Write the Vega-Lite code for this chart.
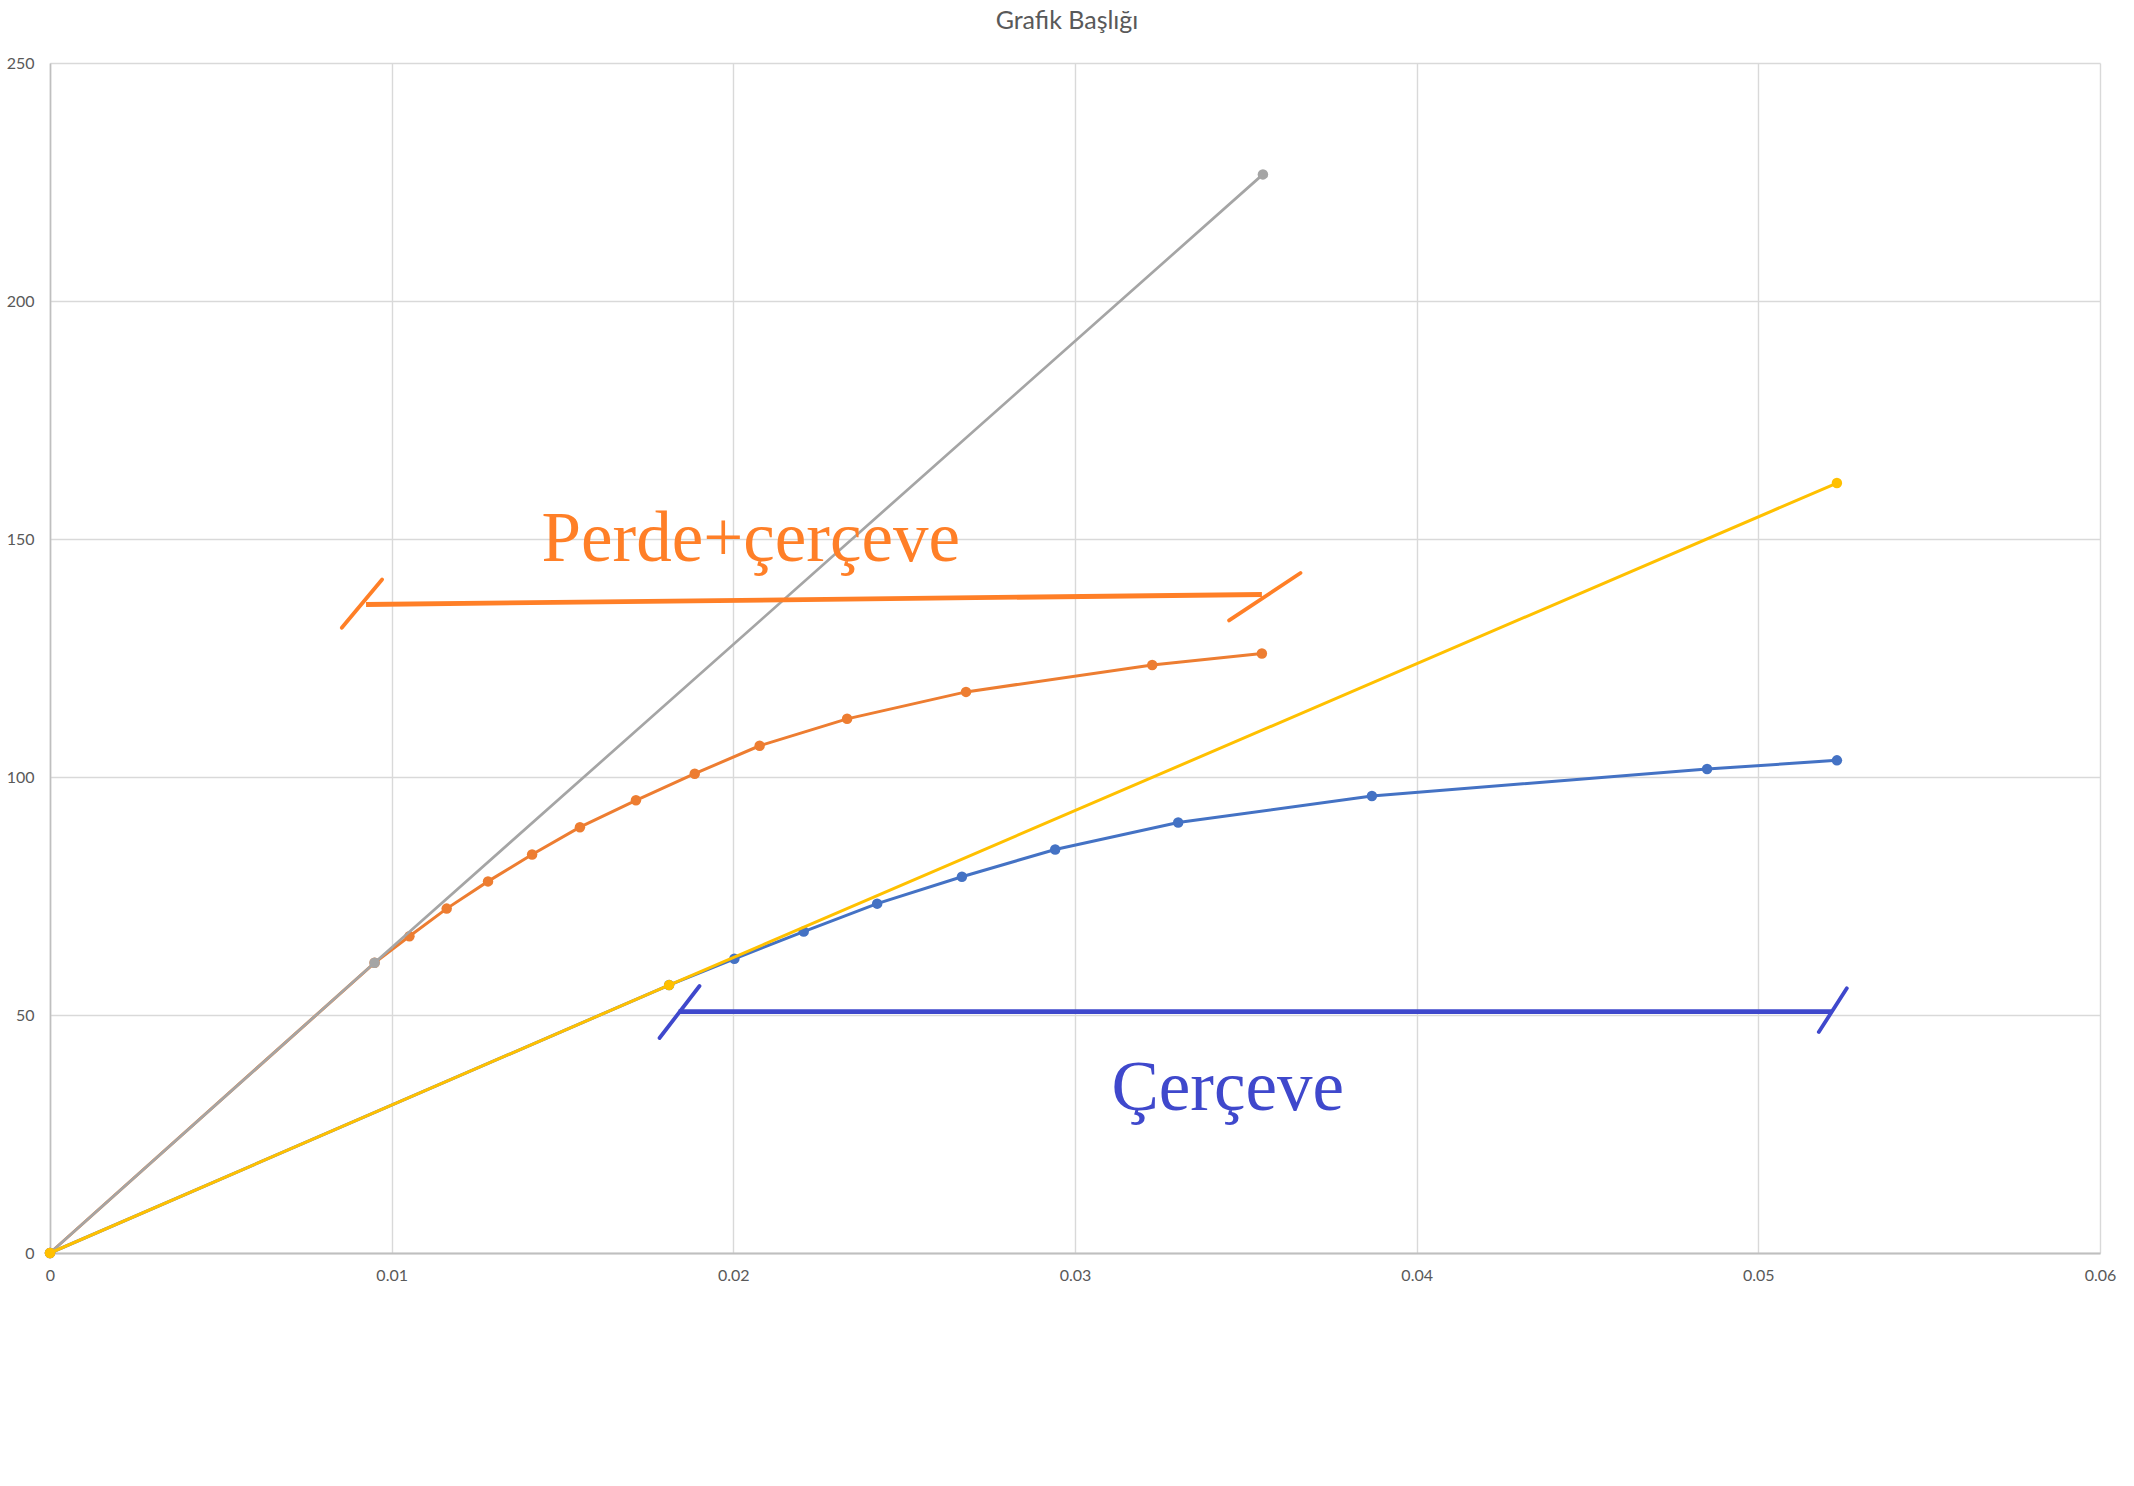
{
  "$schema": "https://vega.github.io/schema/vega-lite/v6.json",
  "width": 2050,
  "height": 1190,
  "autosize": {"type": "none"},
  "padding": {"left": 50, "top": 63, "right": 34, "bottom": 233},
  "background": "white",
  "title": {"text": "Grafik Başlığı", "font": "Lato", "fontSize": 25, "fontWeight": "normal", "color": "#595959", "anchor": "middle", "offset": 21, "dx": -8},
  "config": {"view": {"stroke": null}},
  "datasets": {
    "series": [
      {"g": "Seri 1", "x": 0, "y": 0},
      {"g": "Seri 1", "x": 0.01812, "y": 56.28},
      {"g": "Seri 1", "x": 0.02003, "y": 61.8},
      {"g": "Seri 1", "x": 0.02206, "y": 67.53},
      {"g": "Seri 1", "x": 0.02421, "y": 73.39},
      {"g": "Seri 1", "x": 0.02669, "y": 79.05},
      {"g": "Seri 1", "x": 0.02942, "y": 84.78},
      {"g": "Seri 1", "x": 0.03302, "y": 90.43},
      {"g": "Seri 1", "x": 0.03869, "y": 96.0},
      {"g": "Seri 1", "x": 0.0485, "y": 101.68},
      {"g": "Seri 1", "x": 0.0523, "y": 103.5},
      {"g": "Seri 2", "x": 0, "y": 0},
      {"g": "Seri 2", "x": 0.0095, "y": 60.96},
      {"g": "Seri 2", "x": 0.01052, "y": 66.55},
      {"g": "Seri 2", "x": 0.01161, "y": 72.35},
      {"g": "Seri 2", "x": 0.01282, "y": 78.07},
      {"g": "Seri 2", "x": 0.01411, "y": 83.73},
      {"g": "Seri 2", "x": 0.01551, "y": 89.46},
      {"g": "Seri 2", "x": 0.01715, "y": 95.11},
      {"g": "Seri 2", "x": 0.01887, "y": 100.7},
      {"g": "Seri 2", "x": 0.02077, "y": 106.56},
      {"g": "Seri 2", "x": 0.02333, "y": 112.22},
      {"g": "Seri 2", "x": 0.02681, "y": 117.88},
      {"g": "Seri 2", "x": 0.03226, "y": 123.53},
      {"g": "Seri 2", "x": 0.03547, "y": 125.95},
      {"g": "Seri 3", "x": 0, "y": 0},
      {"g": "Seri 3", "x": 0.0095, "y": 60.96},
      {"g": "Seri 3", "x": 0.0355, "y": 226.6},
      {"g": "Seri 4", "x": 0, "y": 0},
      {"g": "Seri 4", "x": 0.01812, "y": 56.28},
      {"g": "Seri 4", "x": 0.0523, "y": 161.76}
    ],
    "bars": [
      {"g": "Perde+çerçeve", "x": 0.00925, "y": 136.24, "x2": 0.03547, "y2": 138.34},
      {"g": "Çerçeve", "x": 0.0184, "y": 50.7, "x2": 0.05215, "y2": 50.7}
    ],
    "slashes": [
      {"g": "Perde+çerçeve", "x": 0.00854, "y": 131.35, "x2": 0.00972, "y2": 141.48},
      {"g": "Perde+çerçeve", "x": 0.03451, "y": 132.9, "x2": 0.0366, "y2": 142.86},
      {"g": "Çerçeve", "x": 0.01784, "y": 45.17, "x2": 0.01901, "y2": 56.09},
      {"g": "Çerçeve", "x": 0.05177, "y": 46.43, "x2": 0.05259, "y2": 55.6}
    ],
    "labels": [
      {"g": "Perde+çerçeve", "t": "Perde+çerçeve", "x": 0.02051, "y": 145.3},
      {"g": "Çerçeve", "t": "Çerçeve", "x": 0.03447, "y": 30.0}
    ]
  },
  "encoding": {
    "x": {
      "field": "x", "type": "quantitative",
      "scale": {"domain": [0, 0.06], "nice": false, "zero": false},
      "axis": {
        "values": [0, 0.01, 0.02, 0.03, 0.04, 0.05, 0.06],
        "format": "~f", "title": null,
        "grid": true, "gridColor": "#D9D9D9", "gridWidth": 1.4,
        "domainColor": "#BFBFBF", "domainWidth": 2.2,
        "ticks": false,
        "labelFont": "Lato", "labelFontSize": 16, "labelColor": "#595959",
        "labelPadding": 14, "labelFlush": false, "labelOverlap": false
      }
    },
    "y": {
      "field": "y", "type": "quantitative",
      "scale": {"domain": [0, 250], "nice": false},
      "axis": {
        "values": [0, 50, 100, 150, 200, 250],
        "title": null,
        "grid": true, "gridColor": "#D9D9D9", "gridWidth": 1.4,
        "domainColor": "#BFBFBF", "domainWidth": 1.6,
        "ticks": false,
        "labelFont": "Lato", "labelFontSize": 16, "labelColor": "#595959",
        "labelPadding": 16, "labelFlush": false, "labelOverlap": false
      }
    },
    "color": {
      "field": "g", "type": "nominal",
      "scale": {
        "domain": ["Seri 1", "Seri 2", "Seri 3", "Seri 4", "Perde+çerçeve", "Çerçeve"],
        "range": ["#4472C4", "#ED7D31", "#A5A5A5", "#FFC000", "#FF7F27", "#3F48CC"]
      },
      "legend": null
    }
  },
  "layer": [
    {
      "data": {"name": "series"},
      "transform": [{"filter": "datum.g === 'Seri 1'"}],
      "mark": {"type": "line", "strokeWidth": 3, "point": {"filled": true, "size": 110, "opacity": 1}}
    },
    {
      "data": {"name": "series"},
      "transform": [{"filter": "datum.g === 'Seri 2'"}],
      "mark": {"type": "line", "strokeWidth": 3, "point": {"filled": true, "size": 110, "opacity": 1}}
    },
    {
      "data": {"name": "series"},
      "transform": [{"filter": "datum.g === 'Seri 3'"}],
      "mark": {"type": "line", "strokeWidth": 2.7, "point": {"filled": true, "size": 110, "opacity": 1}}
    },
    {
      "data": {"name": "series"},
      "transform": [{"filter": "datum.g === 'Seri 4'"}],
      "mark": {"type": "line", "strokeWidth": 3, "point": {"filled": true, "size": 110, "opacity": 1}}
    },
    {
      "data": {"name": "bars"},
      "mark": {"type": "rule", "strokeWidth": 4.8, "strokeCap": "butt"},
      "encoding": {
        "x2": {"field": "x2"},
        "y2": {"field": "y2"}
      }
    },
    {
      "data": {"name": "slashes"},
      "mark": {"type": "rule", "strokeWidth": 3.8, "strokeCap": "round"},
      "encoding": {
        "x2": {"field": "x2"},
        "y2": {"field": "y2"}
      }
    },
    {
      "data": {"name": "labels"},
      "mark": {"type": "text", "font": "Liberation Serif", "fontSize": 71, "align": "center", "baseline": "alphabetic"},
      "encoding": {
        "text": {"field": "t"}
      }
    }
  ]
}
